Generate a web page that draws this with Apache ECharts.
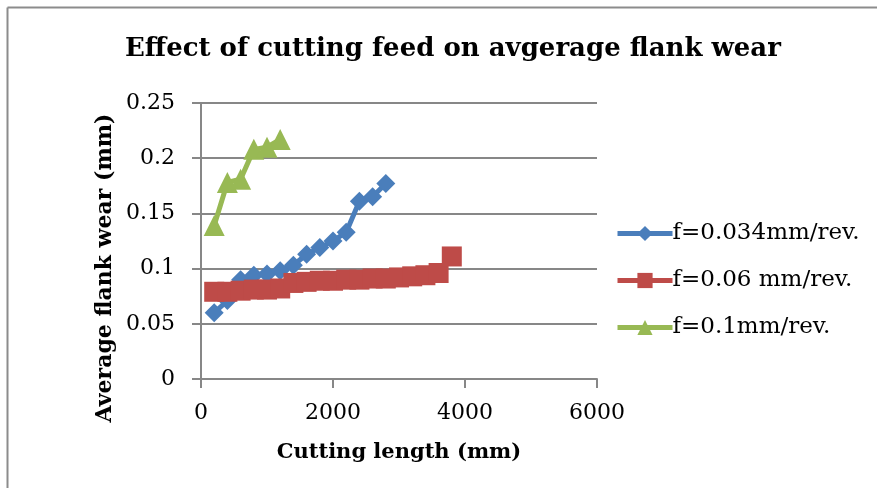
<!DOCTYPE html>
<html>
<head>
<meta charset="utf-8">
<script src="https://cdn.jsdelivr.net/npm/echarts@6/dist/echarts.min.js"></script>
<style>html,body{margin:0;padding:0;background:#fff}#c{width:877px;height:488px}</style>
</head>
<body>
<div id="c"></div>
<script>
var titleText = 'Effect of cutting feed on avgerage flank wear';
var xName = 'Cutting length (mm)';
var yName = 'Average flank wear (mm)';
var seriesNames = ['f=0.034mm/rev.', 'f=0.06 mm/rev.', 'f=0.1mm/rev.'];

var xBlue = [200,400,600,800,1000,1200,1400,1600,1800,2000,2200,2400,2600,2800];
var yBlue = [0.060,0.071,0.090,0.094,0.095,0.098,0.103,0.113,0.119,0.125,0.133,0.161,0.165,0.177];

var xRed = [200,400,600,800,1000,1200,1400,1600,1800,2000,2200,2400,2600,2800,3000,3200,3400,3600,3800];
var yRed = [0.079,0.079,0.080,0.081,0.081,0.082,0.087,0.088,0.089,0.089,0.090,0.090,0.091,0.091,0.092,0.093,0.094,0.096,0.111];

var xGreen = [200,400,600,800,1000,1200];
var yGreen = [0.139,0.178,0.181,0.208,0.210,0.217];

var colors = ['#4A7EBB', '#BE4B48', '#98B954'];
var symbols = ['diamond', 'rect', 'triangle'];

function pairs(xs, ys){ return xs.map(function(x,i){ return [x, ys[i]]; }); }

var chart = echarts.init(document.getElementById('c'));
var serif = 'DejaVu Serif';
var axisGray = '#878787';
chart.setOption({
  animation: false,
  backgroundColor: '#fff',
  graphic: [
    {type: 'line', shape: {x1: 7.5, y1: 7.5, x2: 877, y2: 7.5}, style: {stroke: '#8c8c8c', lineWidth: 2}, silent: true},
    {type: 'line', shape: {x1: 7.5, y1: 7.5, x2: 7.5, y2: 488}, style: {stroke: '#8c8c8c', lineWidth: 2}, silent: true},
    {type: 'text', x: 105, y: 268, rotation: Math.PI / 2, silent: true,
     style: {text: yName, fontFamily: serif, fontWeight: 'bold', fontSize: 22, fill: '#000',
             align: 'center', verticalAlign: 'middle'}}
  ],
  title: {
    text: titleText, left: 120, top: 31,
    textStyle: {fontFamily: serif, fontWeight: 'bold', fontSize: 26, color: '#000'}
  },
  grid: {left: 201, right: 280, top: 103, bottom: 109, containLabel: false},
  legend: {
    orient: 'vertical', left: 615, top: 222, itemGap: 24, padding: 0,
    itemWidth: 55, itemHeight: 19,
    lineStyle: {width: 5},
    textStyle: {fontFamily: serif, fontSize: 23, color: '#000', padding: [0,0,0,-5]},
    data: seriesNames
  },
  xAxis: {
    type: 'value', min: 0, max: 6000, interval: 2000,
    name: xName, nameLocation: 'middle', nameGap: 63,
    nameTextStyle: {fontFamily: serif, fontWeight: 'bold', fontSize: 21, color: '#000'},
    axisLine: {show: true, onZero: false, lineStyle: {color: axisGray, width: 2}},
    axisTick: {show: true, length: 9, lineStyle: {color: axisGray, width: 2}},
    axisLabel: {fontFamily: serif, fontSize: 22, color: '#000', margin: 23,
      formatter: function(v){ return String(v); }},
    splitLine: {show: false}
  },
  yAxis: {
    type: 'value', min: 0, max: 0.25, interval: 0.05,
    axisLine: {show: true, lineStyle: {color: axisGray, width: 2}},
    axisTick: {show: true, length: 9, lineStyle: {color: axisGray, width: 2}},
    axisLabel: {fontFamily: serif, fontSize: 22, color: '#000', margin: 26,
      formatter: function(v){ return String(+v.toFixed(2)); }},
    splitLine: {show: true, lineStyle: {color: axisGray, width: 2}}
  },
  series: [
    {name: seriesNames[0], type: 'line', data: pairs(xBlue, yBlue), symbol: symbols[0], symbolSize: 19,
     itemStyle: {color: colors[0]}, lineStyle: {color: colors[0], width: 5}},
    {name: seriesNames[1], type: 'line', data: pairs(xRed, yRed), symbol: symbols[1], symbolSize: 20,
     itemStyle: {color: colors[1]}, lineStyle: {color: colors[1], width: 5}},
    {name: seriesNames[2], type: 'line', data: pairs(xGreen, yGreen), symbol: symbols[2], symbolSize: 21,
     itemStyle: {color: colors[2]}, lineStyle: {color: colors[2], width: 5}}
  ]
});
</script>
</body>
</html>
